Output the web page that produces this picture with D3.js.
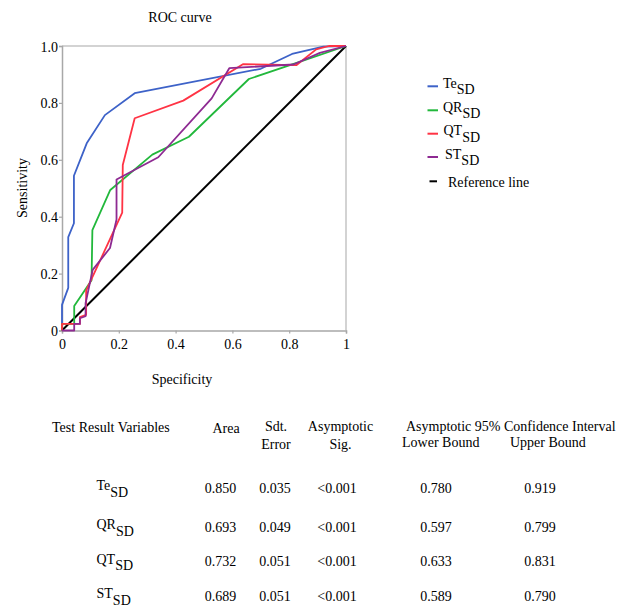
<!DOCTYPE html>
<html>
<head>
<meta charset="utf-8">
<script src="https://cdn.jsdelivr.net/npm/d3@7"></script>
<style>
  html, body { margin: 0; padding: 0; background: #fff; }
  svg { display: block; font-family: "Liberation Serif", "Times New Roman", serif; }
</style>
</head>
<body>
<svg id="chart" width="618" height="608"></svg>
<script>
// ROC curve coordinates: [1 - specificity, sensitivity]
const teSD = [[0,0],[0,0.09],[0.022,0.15],[0.022,0.328],[0.042,0.377],[0.042,0.544],[0.087,0.658],[0.151,0.757],[0.256,0.834],[0.70,0.92],[0.81,0.972],[0.92,0.998],[1,1]];
const qrSD = [[0,0],[0,0.023],[0.043,0.023],[0.043,0.086],[0.104,0.177],[0.107,0.353],[0.170,0.494],[0.318,0.618],[0.447,0.681],[0.658,0.884],[0.826,0.941],[1,1]];
const qtSD = [[0,0],[0,0.023],[0.063,0.023],[0.063,0.047],[0.085,0.055],[0.085,0.14],[0.212,0.414],[0.214,0.582],[0.256,0.746],[0.427,0.808],[0.637,0.936],[0.826,0.933],[0.895,0.988],[0.94,1],[1,1]];
const stSD = [[0,0],[0.043,0],[0.043,0.023],[0.063,0.023],[0.063,0.043],[0.083,0.05],[0.083,0.096],[0.108,0.213],[0.169,0.29],[0.192,0.39],[0.192,0.531],[0.339,0.609],[0.527,0.816],[0.589,0.922],[0.815,0.935],[0.908,0.976],[1,1]];
const referenceLine = [[0,0],[1,1]];

const seriesNames = ["Te", "QR", "QT", "ST"];
const seriesColors = ["#3d62c8", "#22b83c", "#ff3344", "#8e2a92"];

const xTicks = [0, 0.2, 0.4, 0.6, 0.8, 1];
const xTickLabels = ["0", "0.2", "0.4", "0.6", "0.8", "1"];
const yTicks = [0, 0.2, 0.4, 0.6, 0.8, 1];
const yTickLabels = ["0", "0.2", "0.4", "0.6", "0.8", "1.0"];

// Area-under-curve table
const tableVars = ["Te", "QR", "QT", "ST"];
const tableArea = ["0.850", "0.693", "0.732", "0.689"];
const tableSE = ["0.035", "0.049", "0.051", "0.051"];
const tableSig = ["<0.001", "<0.001", "<0.001", "<0.001"];
const tableLower = ["0.780", "0.597", "0.633", "0.589"];
const tableUpper = ["0.919", "0.799", "0.831", "0.790"];

const svg = d3.select("#chart");
const FS = 14;

const x = d3.scaleLinear().domain([0, 1]).range([62, 346]);
const y = d3.scaleLinear().domain([0, 1]).range([330.5, 46]);

// Title
svg.append("text").attr("x", 180).attr("y", 22).attr("text-anchor", "middle")
  .attr("font-size", FS).text("ROC curve");

// Plot frame (top and right)
svg.append("line").attr("x1", x(0)).attr("x2", x(1)).attr("y1", y(1)).attr("y2", y(1))
  .attr("stroke", "#c4c4c4").attr("stroke-width", 1.5);
svg.append("line").attr("x1", x(1)).attr("x2", x(1)).attr("y1", y(0)).attr("y2", y(1))
  .attr("stroke", "#c4c4c4").attr("stroke-width", 1.5);

// Axes
const xAxis = d3.axisBottom(x).tickValues(xTicks).tickSize(3).tickPadding(6)
  .tickFormat((d, i) => xTickLabels[i]);
const yAxis = d3.axisLeft(y).tickValues(yTicks).tickSize(3).tickPadding(1)
  .tickFormat((d, i) => yTickLabels[i]);

const gx = svg.append("g").attr("transform", `translate(0,${y(0)})`).call(xAxis);
const gy = svg.append("g").attr("transform", `translate(${x(0)},0)`).call(yAxis);
[gx, gy].forEach(g => {
  g.select(".domain").attr("stroke", "#a8a8a8").attr("stroke-width", 1.5);
  g.selectAll(".tick line").attr("stroke", "#a8a8a8").attr("stroke-width", 1.2);
  g.selectAll(".tick text").attr("font-family", "Liberation Serif, serif")
    .attr("font-size", FS).attr("fill", "#000");
});
gy.selectAll(".tick text").attr("dy", "0.36em");

// Axis titles
svg.append("text").attr("x", 182).attr("y", 384).attr("text-anchor", "middle")
  .attr("font-size", FS).text("Specificity");
svg.append("text").attr("transform", "translate(26.5,188) rotate(-90)")
  .attr("text-anchor", "middle").attr("font-size", FS).text("Sensitivity");

// Curves
const line = d3.line().x(d => x(d[0])).y(d => y(d[1]));
const curves = [teSD, qrSD, qtSD, stSD];

svg.append("path").datum(referenceLine).attr("d", line)
  .attr("fill", "none").attr("stroke", "#000").attr("stroke-width", 2);

curves.forEach((c, i) => {
  svg.append("path").datum(c).attr("d", line)
    .attr("fill", "none").attr("stroke", seriesColors[i])
    .attr("stroke-width", 1.8).attr("stroke-linejoin", "round");
});

// Legend
const legendY = [86.3, 110.3, 133.7, 157];
const legendTextX = [443, 443, 443.5, 445];
seriesNames.forEach((name, i) => {
  svg.append("line").attr("x1", 427.5).attr("x2", 438)
    .attr("y1", legendY[i]).attr("y2", legendY[i])
    .attr("stroke", seriesColors[i]).attr("stroke-width", 2);
  const t = svg.append("text").attr("x", legendTextX[i]).attr("y", legendY[i] + 1.5)
    .attr("font-size", FS);
  t.append("tspan").text(name);
  t.append("tspan").attr("dy", 6.5).text("SD");
});
svg.append("line").attr("x1", 429.5).attr("x2", 437).attr("y1", 181.3).attr("y2", 181.3)
  .attr("stroke", "#000").attr("stroke-width", 2);
svg.append("text").attr("x", 448).attr("y", 187).attr("font-size", FS).text("Reference line");

// Table headers
const hdr = (txt, xx, yy, anchor) => svg.append("text").attr("x", xx).attr("y", yy)
  .attr("text-anchor", anchor || "middle").attr("font-size", FS).text(txt);
hdr("Test Result Variables", 52, 431.5, "start");
hdr("Area", 226, 433);
hdr("Sdt.", 276, 430.7);
hdr("Error", 276, 449);
hdr("Asymptotic", 340.5, 430.7);
hdr("Sig.", 340.5, 449);
hdr("Asymptotic 95% Confidence Interval", 406, 430.7, "start");
hdr("Lower Bound", 402, 446.7, "start");
hdr("Upper Bound", 510, 446.7, "start");

// Table rows
const rowY = [492.5, 531.5, 566, 600.5];
const colX = { area: 220.5, se: 275, sig: 337, lower: 436, upper: 540 };
tableVars.forEach((v, i) => {
  const t = svg.append("text").attr("x", 96.5).attr("y", rowY[i] - 2.5).attr("font-size", FS);
  t.append("tspan").text(v);
  t.append("tspan").attr("dy", 6.5).text("SD");
  hdr(tableArea[i], colX.area, rowY[i]);
  hdr(tableSE[i], colX.se, rowY[i]);
  hdr(tableSig[i], colX.sig, rowY[i]);
  hdr(tableLower[i], colX.lower, rowY[i]);
  hdr(tableUpper[i], colX.upper, rowY[i]);
});
</script>
</body>
</html>
